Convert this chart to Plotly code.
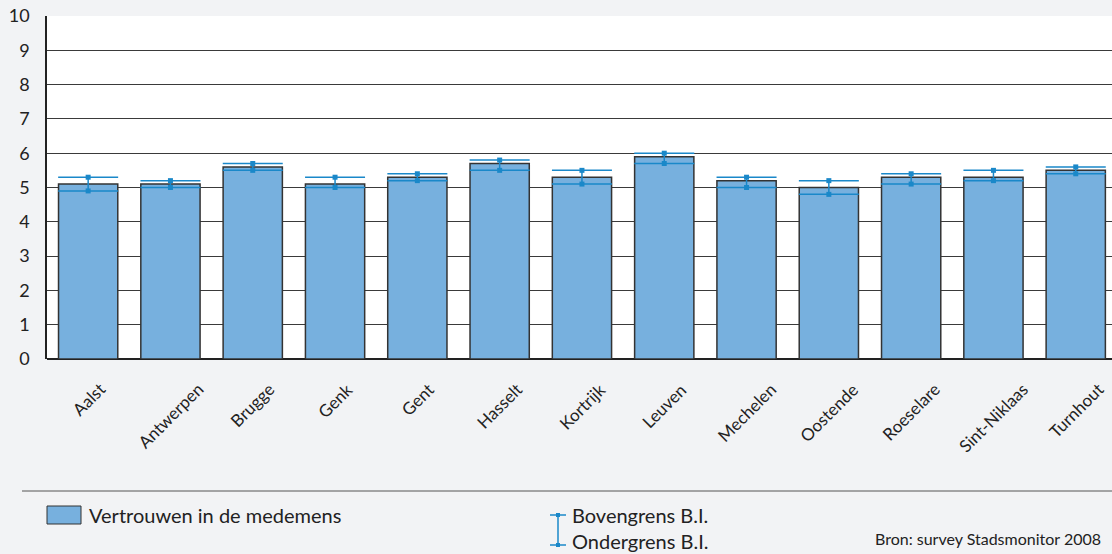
import plotly.graph_objects as go

cities = ["Aalst", "Antwerpen", "Brugge", "Genk", "Gent", "Hasselt", "Kortrijk",
          "Leuven", "Mechelen", "Oostende", "Roeselare", "Sint-Niklaas", "Turnhout"]
vertrouwen = [5.1, 5.1, 5.6, 5.1, 5.3, 5.7, 5.3, 5.9, 5.2, 5.0, 5.3, 5.3, 5.5]
bovengrens = [5.3, 5.2, 5.7, 5.3, 5.4, 5.8, 5.5, 6.0, 5.3, 5.2, 5.4, 5.5, 5.6]
ondergrens = [4.9, 5.0, 5.5, 5.0, 5.2, 5.5, 5.1, 5.7, 5.0, 4.8, 5.1, 5.2, 5.4]
y_ticks = list(range(0, 11))

BAR = "#77b0de"
EB = "#1a88c9"
FONT = "Lato"

W, H = 1112, 554
L, T, B = 47, 16, 359
pw, ph = W - L, B - T


def px(x):
    return (x - L) / pw


def py(y):
    return (B - y) / ph


fig = go.Figure()
fig.add_trace(go.Bar(
    x=cities, y=vertrouwen, width=0.72,
    marker=dict(color=BAR, line=dict(color="#333333", width=1.5)),
    error_y=dict(type="data", symmetric=False,
                 array=[u - v for u, v in zip(bovengrens, vertrouwen)],
                 arrayminus=[v - l for v, l in zip(vertrouwen, ondergrens)],
                 color=EB, thickness=1.5, width=30),
    showlegend=False, hoverinfo="skip",
))
fig.add_trace(go.Scatter(
    x=cities + cities, y=bovengrens + ondergrens, mode="markers",
    marker=dict(symbol="square", size=5, color=EB),
    showlegend=False, hoverinfo="skip",
))

SX = 558
shapes = [
    dict(type="line", xref="paper", yref="paper", x0=px(22), x1=1.0,
         y0=py(491), y1=py(491), line=dict(color="#555555", width=1)),
    dict(type="rect", xref="paper", yref="paper", x0=px(47), x1=px(81),
         y0=py(524), y1=py(506), fillcolor=BAR, line=dict(color="#333333", width=1)),
    dict(type="line", xref="paper", yref="paper", x0=px(SX), x1=px(SX),
         y0=py(515), y1=py(545), line=dict(color=EB, width=1.5)),
    dict(type="line", xref="paper", yref="paper", x0=px(SX - 8), x1=px(SX + 8),
         y0=py(515), y1=py(515), line=dict(color=EB, width=1.5)),
    dict(type="line", xref="paper", yref="paper", x0=px(SX - 8), x1=px(SX + 8),
         y0=py(545), y1=py(545), line=dict(color=EB, width=1.5)),
    dict(type="rect", xref="paper", yref="paper", x0=px(SX - 2), x1=px(SX + 2),
         y0=py(517), y1=py(513), fillcolor=EB, line=dict(width=0)),
    dict(type="rect", xref="paper", yref="paper", x0=px(SX - 2), x1=px(SX + 2),
         y0=py(547), y1=py(543), fillcolor=EB, line=dict(width=0)),
]

annotations = [
    dict(text=c, x=c, y=0, xref="x", yref="y", xanchor="center", yanchor="top",
         yshift=-17, textangle=-45, showarrow=False,
         font=dict(size=17, color="#222222", family=FONT))
    for c in cities
] + [
    dict(text="Vertrouwen in de medemens", x=px(87), y=py(515), xref="paper", yref="paper",
         xanchor="left", yanchor="middle", showarrow=False,
         font=dict(size=20, color="#222222", family=FONT)),
    dict(text="Bovengrens B.I.", x=px(570), y=py(515), xref="paper", yref="paper",
         xanchor="left", yanchor="middle", showarrow=False,
         font=dict(size=20, color="#222222", family=FONT)),
    dict(text="Ondergrens B.I.", x=px(570), y=py(541), xref="paper", yref="paper",
         xanchor="left", yanchor="middle", showarrow=False,
         font=dict(size=20, color="#222222", family=FONT)),
    dict(text="Bron: survey Stadsmonitor 2008", x=px(873), y=py(538), xref="paper", yref="paper",
         xanchor="left", yanchor="middle", showarrow=False,
         font=dict(size=16, color="#222222", family=FONT)),
]

fig.update_layout(
    width=W, height=H,
    margin=dict(l=L, r=0, t=T, b=H - B, pad=0),
    paper_bgcolor="#f2f3f5", plot_bgcolor="#ffffff",
    font=dict(family=FONT, color="#222222"),
    shapes=shapes, annotations=annotations,
    bargap=0.28,
)
fig.update_xaxes(range=[-0.5, -0.5 + pw / 82.3], showticklabels=False, showgrid=False,
                 showline=False, ticks="", fixedrange=True)
fig.update_yaxes(range=[0, 10], tickvals=y_ticks, showgrid=True, gridcolor="#3a3a3a",
                 gridwidth=1, zeroline=True, zerolinecolor="#222222", zerolinewidth=1.5,
                 showline=True, linecolor="#222222", linewidth=1.5,
                 tickfont=dict(size=18, family=FONT, color="#222222"),
                 ticks="", ticklabelstandoff=12, fixedrange=True)

fig.write_html("out.html", config={"displayModeBar": False},
               post_script="document.body.style.margin='0';document.body.style.overflow='hidden';document.body.style.background='#f2f3f5';")
